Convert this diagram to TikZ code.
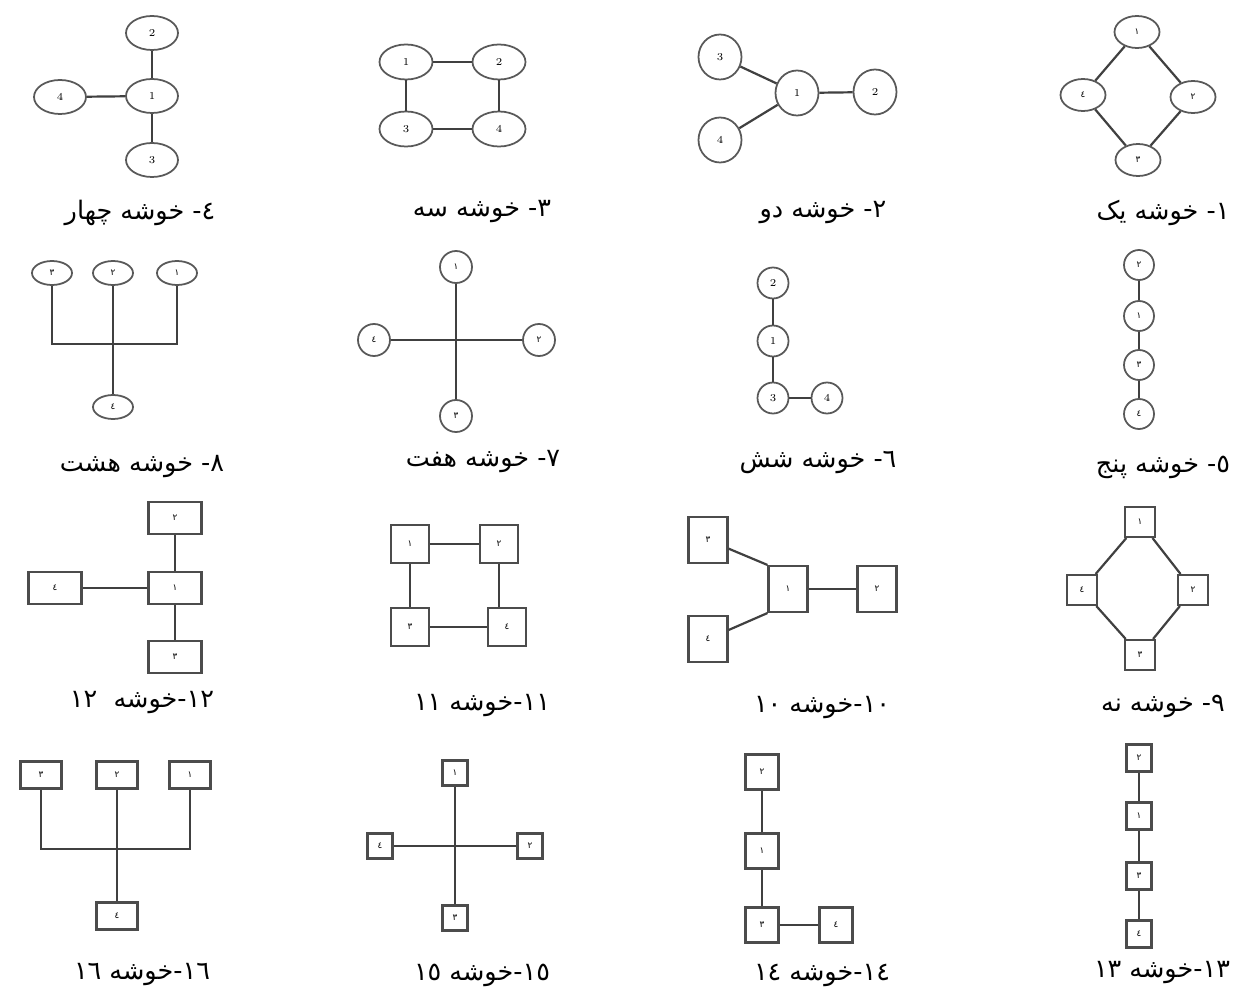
\documentclass[tikz,border=0pt]{standalone}
\usepackage{fontspec}
\usepackage{tikz}
\usetikzlibrary{shapes.geometric, positioning}
\TeXXeTstate=1
\newfontfamily\farsi[Script=Arabic]{DejaVu Sans}
\tikzset{
  ov/.style 2 args={ellipse, draw=black!65, line width=1pt, inner sep=0pt,
    minimum width=#1*0.2mm, minimum height=#2*0.2mm, font=\fontsize{6}{7}\selectfont},
  bx/.style 2 args={rectangle, draw=black!70, line width=1.2pt, inner sep=0pt,
    minimum width=#1*0.2mm, minimum height=#2*0.2mm, font=\farsi\fontsize{5}{6}\selectfont},
  fa/.style={font=\farsi\fontsize{5}{6}\selectfont},
  edge/.style={draw=black!75, line width=1.25pt},
  captxt/.style={font=\farsi\fontsize{14.5}{16}\selectfont, inner sep=0pt}
}

\begin{document}
\begin{tikzpicture}[x=0.2mm, y=-0.2mm]
  \path[use as bounding box, fill=white] (0,0) rectangle (1247,996);

  % --- row 1
  \node[ov={52}{34}] (p4a) at (152,96) {1};
  \node[ov={52}{34}] (p4b) at (152,33) {2};
  \node[ov={52}{34}] (p4c) at (152,160) {3};
  \node[ov={52}{34}] (p4d) at (60,97) {4};
  \draw[edge] (p4a) -- (p4b); \draw[edge] (p4a) -- (p4c); \draw[edge] (p4a) -- (p4d);
  \node[captxt] (c4) at (140,213) {\beginR ٤- خوشه چهار\endR};

  \node[ov={53}{35}] (p3a) at (406,62) {1};
  \node[ov={53}{35}] (p3b) at (499,62) {2};
  \node[ov={53}{35}] (p3c) at (406,129) {3};
  \node[ov={53}{35}] (p3d) at (499,129) {4};
  \draw[edge] (p3a) -- (p3b); \draw[edge] (p3a) -- (p3c);
  \draw[edge] (p3b) -- (p3d); \draw[edge] (p3c) -- (p3d);
  \node[captxt] (c3) at (482,212) {\beginR ٣- خوشه سه\endR};

  \node[ov={43}{45}] (p2a) at (797,93) {1};
  \node[ov={43}{45}] (p2b) at (875,92) {2};
  \node[ov={43}{45}] (p2c) at (720,57) {3};
  \node[ov={43}{45}] (p2d) at (720,140) {4};
  \draw[edge] (p2a) -- (p2b); \draw[edge] (p2a) -- (p2c); \draw[edge] (p2a) -- (p2d);
  \node[captxt] (c2) at (823,213) {\beginR ٢- خوشه دو\endR};

  \node[ov={45}{32}, fa] (p1a) at (1137,32) {١};
  \node[ov={45}{32}, fa] (p1b) at (1193,97) {٢};
  \node[ov={45}{32}, fa] (p1c) at (1138,160) {٣};
  \node[ov={45}{32}, fa] (p1d) at (1083,95) {٤};
  \draw[edge] (p1a) -- (p1b); \draw[edge] (p1a) -- (p1d);
  \draw[edge] (p1b) -- (p1c); \draw[edge] (p1d) -- (p1c);
  \node[captxt] (c1) at (1163,213) {\beginR ١- خوشه یک\endR};

  % --- row 2
  \node[ov={40}{24}, fa] (p8a) at (52,273) {٣};
  \node[ov={40}{24}, fa] (p8b) at (113,273) {٢};
  \node[ov={40}{24}, fa] (p8c) at (177,273) {١};
  \node[ov={40}{24}, fa] (p8d) at (113,407) {٤};
  \coordinate (p8m) at (113,344);
  \draw[edge] (p8a) |- (p8m) -| (p8c);
  \draw[edge] (p8b) -- (p8d);
  \node[captxt] (c8) at (142,467) {\beginR ٨- خوشه هشت\endR};

  \node[ov={32}{32}, fa] (p7a) at (456,267) {١};
  \node[ov={32}{32}, fa] (p7b) at (539,340) {٢};
  \node[ov={32}{32}, fa] (p7c) at (456,416) {٣};
  \node[ov={32}{32}, fa] (p7d) at (374,340) {٤};
  \draw[edge] (p7a) -- (p7c); \draw[edge] (p7b) -- (p7d);
  \node[captxt] (c7) at (483,462) {\beginR ٧- خوشه هفت\endR};

  \node[ov={31}{31}] (p6a) at (773,341) {1};
  \node[ov={31}{31}] (p6b) at (773,283) {2};
  \node[ov={31}{31}] (p6c) at (773,398) {3};
  \node[ov={31}{31}] (p6d) at (827,398) {4};
  \draw[edge] (p6a) -- (p6b); \draw[edge] (p6a) -- (p6c); \draw[edge] (p6c) -- (p6d);
  \node[captxt] (c6) at (818,463) {\beginR ٦- خوشه شش\endR};

  \node[ov={30}{30}, fa] (p5a) at (1139,316) {١};
  \node[ov={30}{30}, fa] (p5b) at (1139,265) {٢};
  \node[ov={30}{30}, fa] (p5c) at (1139,365) {٣};
  \node[ov={30}{30}, fa] (p5d) at (1139,414) {٤};
  \draw[edge] (p5b) -- (p5a); \draw[edge] (p5a) -- (p5c); \draw[edge] (p5c) -- (p5d);
  \node[captxt] (c5) at (1163,467) {\beginR ٥- خوشه پنج\endR};

  % --- row 3
  \node[bx={53}{32}] (p12a) at (175,588) {١};
  \node[bx={53}{32}] (p12b) at (175,518) {٢};
  \node[bx={53}{32}] (p12c) at (175,657) {٣};
  \node[bx={53}{32}] (p12d) at (55,588) {٤};
  \draw[edge] (p12a) -- (p12b); \draw[edge] (p12a) -- (p12c); \draw[edge] (p12a) -- (p12d);
  \node[captxt] (c12) at (142,703) {\beginR\beginL ١٢\endL{}-خوشه \ \beginL ١٢\endL{}\endR};

  \node[bx={38}{38}] (p11a) at (410,544) {١};
  \node[bx={38}{38}] (p11b) at (499,544) {٢};
  \node[bx={38}{38}] (p11c) at (410,627) {٣};
  \node[bx={38}{38}] (p11d) at (507,627) {٤};
  \draw[edge] (p11a) -- (p11b); \draw[edge] (p11a) -- (p11c);
  \draw[edge] (p11b.south) -- (p11b.south |- p11d.north); \draw[edge] (p11c) -- (p11d);
  \node[captxt] (c11) at (482,706) {\beginR\beginL ١١\endL{}-خوشه \beginL ١١\endL{}\endR};

  \node[bx={39}{46}] (p10a) at (788,589) {١};
  \node[bx={39}{46}] (p10b) at (877,589) {٢};
  \node[bx={39}{46}] (p10c) at (708,540) {٣};
  \node[bx={39}{46}] (p10d) at (708,639) {٤};
  \draw[edge] (p10a.north west) -- (p10c); \draw[edge] (p10a.south west) -- (p10d);
  \draw[edge] (p10a) -- (p10b);
  \node[captxt] (c10) at (822,708) {\beginR\beginL ١٠\endL{}-خوشه \beginL ١٠\endL{}\endR};

  \node[bx={30}{30}] (p9a) at (1140,522) {١};
  \node[bx={30}{30}] (p9b) at (1193,590) {٢};
  \node[bx={30}{30}] (p9c) at (1140,655) {٣};
  \node[bx={30}{30}] (p9d) at (1082,590) {٤};
  \draw[edge] (p9a) -- (p9b); \draw[edge] (p9a) -- (p9d);
  \draw[edge] (p9b) -- (p9c); \draw[edge] (p9d) -- (p9c);
  \node[captxt] (c9) at (1163,706) {\beginR ٩- خوشه نه\endR};

  % --- row 4
  \node[bx={41}{27}] (p16a) at (41,775) {٣};
  \node[bx={41}{27}] (p16b) at (117,775) {٢};
  \node[bx={41}{27}] (p16c) at (190,775) {١};
  \node[bx={41}{27}] (p16d) at (117,916) {٤};
  \coordinate (p16m) at (117,849);
  \draw[edge] (p16a) |- (p16m) -| (p16c);
  \draw[edge] (p16b) -- (p16d);
  \node[captxt] (c16) at (142,975) {\beginR\beginL ١٦\endL{}-خوشه \beginL ١٦\endL{}\endR};

  \node[bx={25}{25}] (p15a) at (455,773) {١};
  \node[bx={25}{25}] (p15b) at (530,846) {٢};
  \node[bx={25}{25}] (p15c) at (455,918) {٣};
  \node[bx={25}{25}] (p15d) at (380,846) {٤};
  \draw[edge] (p15a) -- (p15c); \draw[edge] (p15b) -- (p15d);
  \node[captxt] (c15) at (482,975) {\beginR\beginL ١٥\endL{}-خوشه \beginL ١٥\endL{}\endR};

  \node[bx={33}{35}] (p14a) at (762,851) {١};
  \node[bx={33}{35}] (p14b) at (762,772) {٢};
  \node[bx={33}{35}] (p14c) at (762,925) {٣};
  \node[bx={33}{35}] (p14d) at (836,925) {٤};
  \draw[edge] (p14a) -- (p14b); \draw[edge] (p14a) -- (p14c); \draw[edge] (p14c) -- (p14d);
  \node[captxt] (c14) at (822,975) {\beginR\beginL ١٤\endL{}-خوشه \beginL ١٤\endL{}\endR};

  \node[bx={25}{27}] (p13a) at (1139,816) {١};
  \node[bx={25}{27}] (p13b) at (1139,758) {٢};
  \node[bx={25}{27}] (p13c) at (1139,876) {٣};
  \node[bx={25}{27}] (p13d) at (1139,934) {٤};
  \draw[edge] (p13b) -- (p13a); \draw[edge] (p13a) -- (p13c); \draw[edge] (p13c) -- (p13d);
  \node[captxt] (c13) at (1162,973) {\beginR\beginL ١٣\endL{}-خوشه \beginL ١٣\endL{}\endR};
\end{tikzpicture}
\end{document}
